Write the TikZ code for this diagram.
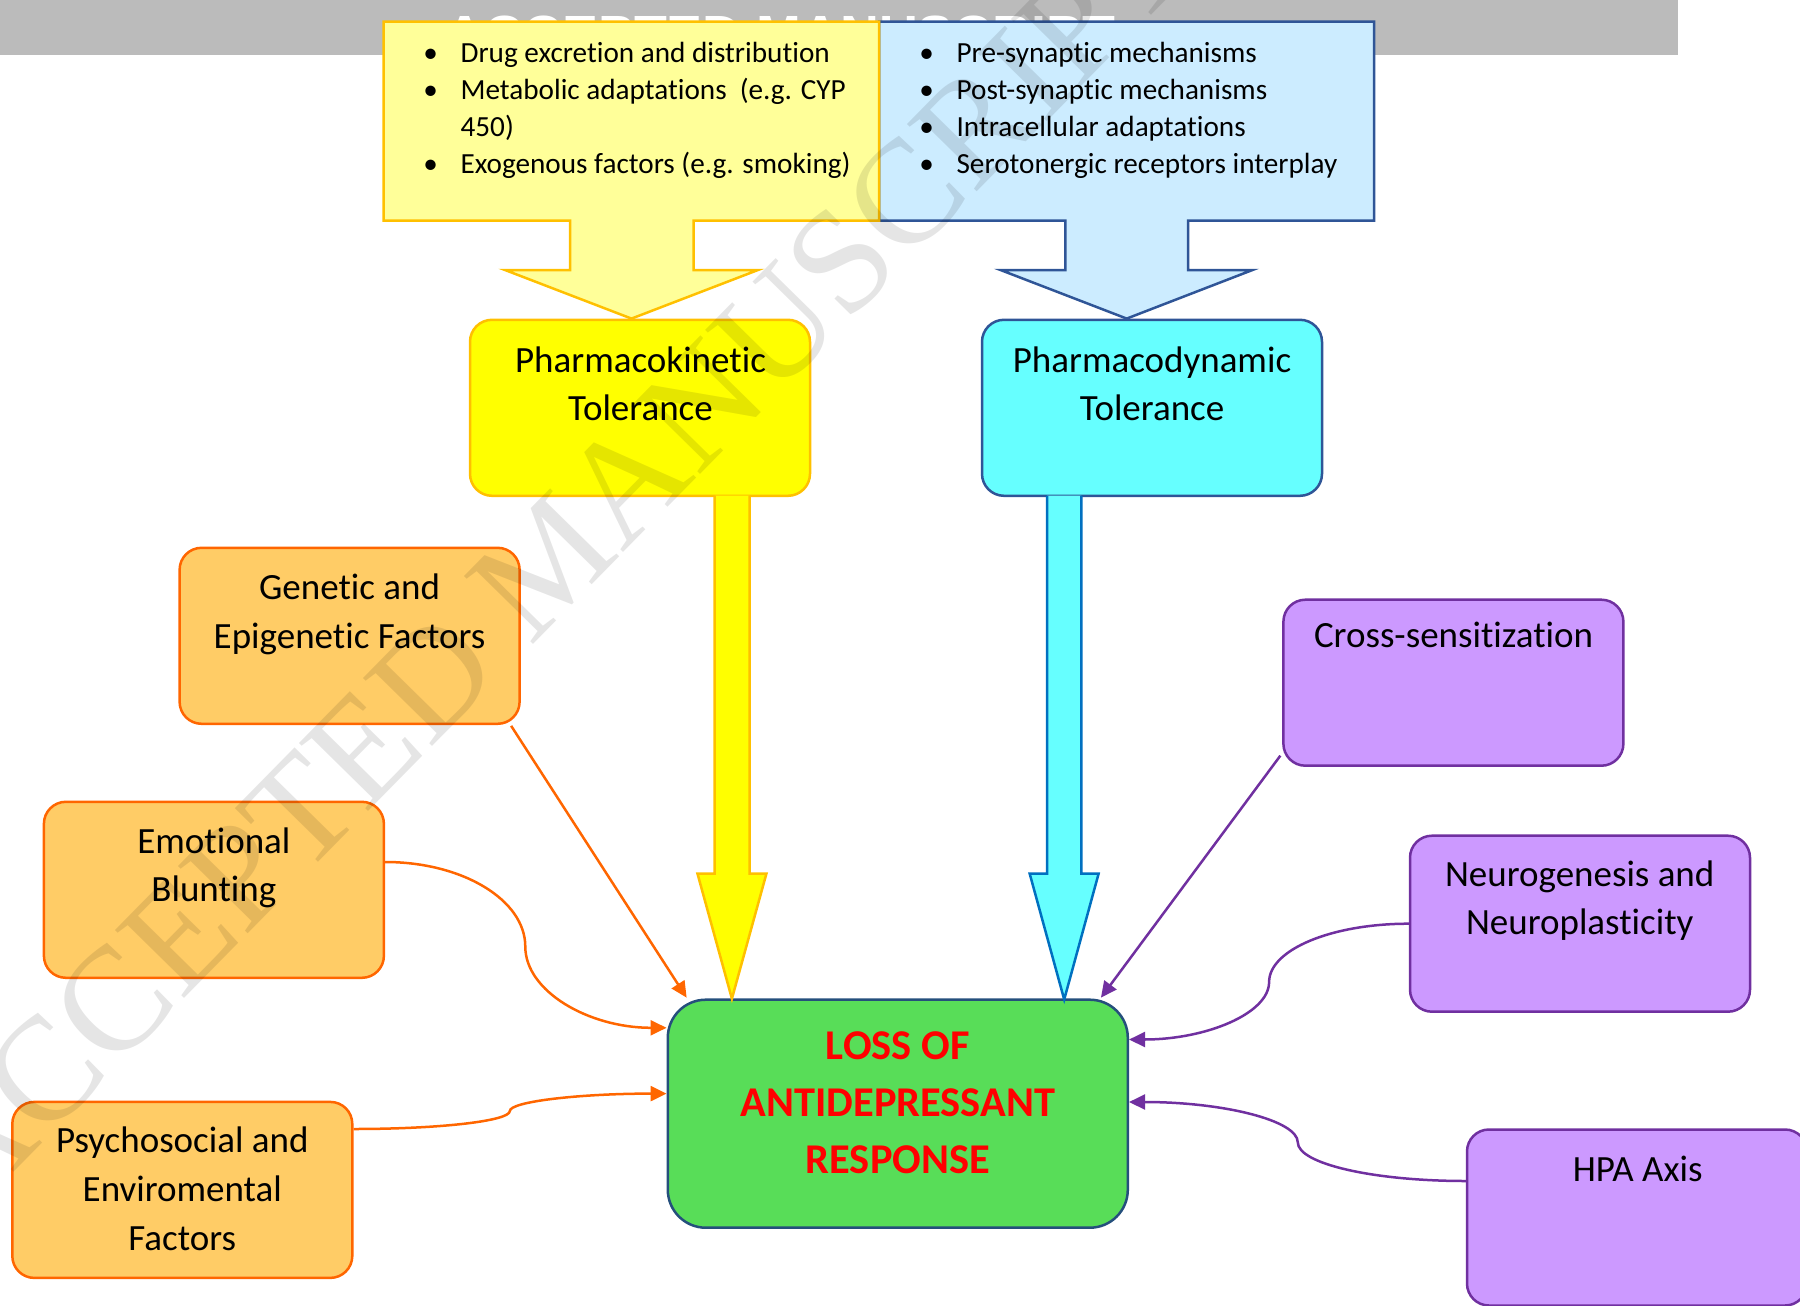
\documentclass[tikz,border=0pt]{standalone}
\usepackage{fontspec}
\setmainfont{Carlito}[Ligatures=NoCommon]
\newfontfamily\wmfont{Liberation Serif}
\newfontfamily\hdfont{Liberation Sans}
\usetikzlibrary{arrows.meta,calc}

\definecolor{pkfill}{HTML}{FFFF99}
\definecolor{pkline}{HTML}{FFC000}
\definecolor{pdfill}{HTML}{CCECFF}
\definecolor{pdline}{HTML}{2F5597}
\definecolor{yelf}{HTML}{FFFF00}
\definecolor{cyanf}{HTML}{66FFFF}
\definecolor{cyanl}{HTML}{0070C0}
\definecolor{orf}{HTML}{FFCC66}
\definecolor{orl}{HTML}{FF6600}
\definecolor{puf}{HTML}{CC99FF}
\definecolor{pul}{HTML}{7030A0}
\definecolor{grf}{HTML}{58DD58}
\definecolor{grl}{HTML}{254F7C}
\definecolor{hdgray}{HTML}{BBBBBB}

\newcommand\rowsc[1]{\begin{tabular}[t]{@{}c@{}}#1\end{tabular}}
\newcommand\rowsl[1]{\begin{tabular}[t]{@{}l@{}}#1\end{tabular}}
\newcommand\blt{\makebox[18.6pt][l]{\textbullet}}

\begin{document}
\begin{tikzpicture}[x=0.5pt,y=-0.5pt,
  rbox/.style={draw, line width=1.25pt, rounded corners=11pt, inner sep=0pt,
               minimum width=170pt, minimum height=88pt},
  obox/.style={rbox, fill=orf, draw=orl},
  pbox/.style={rbox, fill=puf, draw=pul},
  ttl/.style={anchor=base, inner sep=0pt, font=\fontsize{18.5}{24.35}\selectfont},
  lst/.style={anchor=base west, inner sep=0pt, font=\fontsize{14.6}{18.5}\selectfont},
  oconn/.style={draw=orl, line width=1.25pt, -{Triangle[length=8pt,width=7.5pt]}},
  pconn/.style={draw=pul, line width=1.25pt, -{Triangle[length=8pt,width=7.5pt]}},
  blockarrow/.style={line width=1.25pt, line join=miter}
]
\useasboundingbox (0,0) rectangle (1800,1306);

% header bar
\fill[hdgray] (0,0) rectangle (1678,55.4);
\node[anchor=base, inner sep=0pt, text=white,
      font=\hdfont\bfseries\fontsize{26.9}{26.9}\selectfont] (hdr) at (780.5,53.5) {ACCEPTED MANUSCRIPT};

% callout boxes
\draw[fill=pdfill, draw=pdline, line width=1.25pt, line join=miter]
  (879,21.7) -- (1374,21.7) -- (1374,220.7) -- (1188.2,220.7) -- (1188.2,270)
  -- (1252.5,270) -- (1126.7,318.6) -- (1000.5,270) -- (1065.3,270)
  -- (1065.3,220.7) -- (879,220.7) -- cycle;
\draw[fill=pkfill, draw=pkline, line width=1.25pt, line join=miter]
  (383.5,21.7) -- (879,21.7) -- (879,220.7) -- (693.5,220.7) -- (693.5,270)
  -- (758,270) -- (631.5,318.6) -- (505,270) -- (570,270)
  -- (570,220.7) -- (383.5,220.7) -- cycle;

\node[lst] (pklist) at (423,62.5) {\rowsl{\blt Drug excretion and distribution\\
  \blt Metabolic adaptations\ \ (e.g. CYP\\
  \hspace*{18.6pt}450)\\
  \blt Exogenous factors (e.g. smoking)}};
\node[lst] (pdlist) at (919,62.5) {\rowsl{\blt Pre-synaptic mechanisms\\
  \blt Post-synaptic mechanisms\\
  \blt Intracellular adaptations\\
  \blt Serotonergic receptors interplay}};

% main boxes
\node[rbox, fill=yelf, draw=pkline] (pk) at (640,407.8) {};
\node[rbox, fill=cyanf, draw=pdline] (pd) at (1152,407.8) {};
\node[obox] (gen) at (349.6,635.8) {};
\node[obox] (emo) at (213.9,889.8) {};
\node[obox] (psy) at (182.3,1189.9) {};
\node[pbox, minimum height=83pt] (cross) at (1453.4,682.7) {};
\node[pbox] (neuro) at (1580,923.7) {};
\node[pbox] (hpa) at (1637,1217.5) {};
\node[draw=grl, fill=grf, line width=1.25pt, rounded corners=19pt, inner sep=0pt,
      minimum width=230pt, minimum height=114pt] (loss) at (897.8,1113.7) {};

% block arrows
\filldraw[blockarrow, fill=yelf, draw=pkline]
  (714.7,495.6) -- (714.7,873.7) -- (697.5,873.7) -- (731.9,998.7)
  -- (766.4,873.7) -- (749.7,873.7) -- (749.7,495.6);
\filldraw[blockarrow, fill=cyanf, draw=cyanl]
  (1047,495.6) -- (1047,873.7) -- (1029.7,873.7) -- (1064.2,999.5)
  -- (1098.6,873.7) -- (1081.4,873.7) -- (1081.4,495.6);

% connectors
\coordinate (emom) at (525.3,946.6);
\coordinate (psym) at (509.8,1111.1);
\coordinate (neurom) at (1269.1,982);
\coordinate (hpam) at (1297.8,1142.4);

\draw[oconn] ($(gen.south east)+(-9.7,0.8)$) -- ($(loss.north west)+(20.1,-0.8)$);
\draw[oconn] ($(emo.east)+(0,-27.8)$) .. controls +(77.7,0) and +(0,-46.5) .. (emom)
  .. controls +(0,44.7) and +(-77.9,0) .. ($(loss.west)+(0,-85.9)$);
\draw[oconn] ($(psy.east)+(0,-60.9)$) .. controls +(86.8,0) and +(0,9.8) .. (psym)
  .. controls +(0,-9.6) and +(-86.9,0) .. ($(loss.west)+(0,-20.1)$);
\draw[pconn] ($(cross.south west)+(-1.8,-11.3)$) -- ($(loss.north east)+(-28.1,-0.8)$);
\draw[pconn] (neuro.west) .. controls +(-77.7,0) and +(0,-32.1) .. (neurom)
  .. controls +(0,31.6) and +(76.7,0) .. ($(loss.east)+(0,-74.2)$);
\draw[pconn] ($(hpa.west)+(0,-36.5)$) .. controls +(-93.1,0) and +(0,21.2) .. (hpam)
  .. controls +(0,-22.2) and +(93.4,0) .. ($(loss.east)+(0,-11.7)$);

% box texts
\node[ttl] (pkt) at (640.5,372) {\rowsc{Pharmacokinetic\\Tolerance}};
\node[ttl] (pdt) at (1152,372) {\rowsc{Pharmacodynamic\\Tolerance}};
\node[ttl] (gent) at (349.6,599.8) {\rowsc{Genetic and\\Epigenetic Factors}};
\node[ttl] (emot) at (213.9,853) {\rowsc{Emotional\\Blunting}};
\node[ttl] (psyt) at (182.3,1152.8) {\rowsc{Psychosocial and\\Enviromental\\Factors}};
\node[ttl] (crosst) at (1453.6,647.7) {Cross-sensitization};
\node[ttl] (neurot) at (1579.7,886.2) {\rowsc{Neurogenesis and\\Neuroplasticity}};
\node[ttl] (hpat) at (1637.7,1181) {HPA Axis};
\node[anchor=base, inner sep=0pt, text=red, font=\bfseries\fontsize{21.2}{28.65}\selectfont]
  (losst) at (897.8,1059) {\rowsc{LOSS OF\\ANTIDEPRESSANT\\RESPONSE}};

% watermark
\node[rotate=45.5, inner sep=0pt, text=black, text opacity=0.1,
      font=\wmfont\fontsize{74}{74}\selectfont] (wm) at (549,559) {ACCEPTED MANUSCRIPT};
\end{tikzpicture}
\end{document}
